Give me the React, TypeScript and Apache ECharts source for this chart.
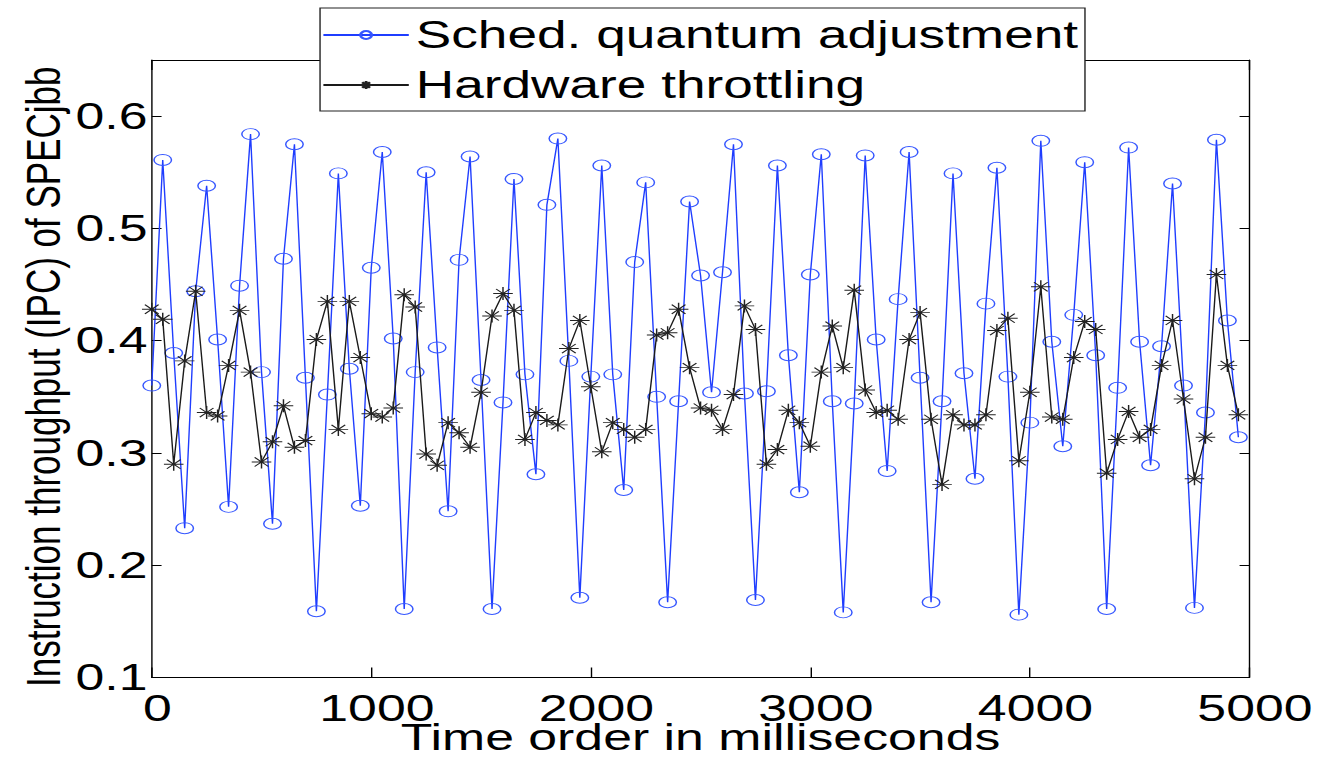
import React, { useEffect, useRef } from "react";
import * as echarts from "echarts";

// Sampled every 50 ms
const schedQuantum = [
  0.360, 0.561, 0.389, 0.233, 0.444, 0.538, 0.401, 0.252, 0.449, 0.584,
  0.372, 0.237, 0.473, 0.575, 0.367, 0.159, 0.352, 0.549, 0.375, 0.253,
  0.465, 0.568, 0.402, 0.161, 0.372, 0.550, 0.394, 0.248, 0.472, 0.564,
  0.365, 0.161, 0.345, 0.544, 0.370, 0.281, 0.521, 0.580, 0.382, 0.171,
  0.368, 0.556, 0.370, 0.267, 0.470, 0.541, 0.350, 0.167, 0.346, 0.524,
  0.458, 0.354, 0.461, 0.575, 0.353, 0.169, 0.355, 0.556, 0.387, 0.265,
  0.459, 0.566, 0.346, 0.158, 0.344, 0.565, 0.401, 0.284, 0.437, 0.568,
  0.367, 0.167, 0.346, 0.549, 0.371, 0.277, 0.433, 0.554, 0.368, 0.156,
  0.327, 0.578, 0.399, 0.306, 0.423, 0.559, 0.387, 0.161, 0.358, 0.572,
  0.399, 0.289, 0.395, 0.540, 0.360, 0.162, 0.336, 0.579, 0.418, 0.314,
];

const hwThrottling = [
  0.428, 0.419, 0.290, 0.382, 0.444, 0.336, 0.333, 0.378, 0.427, 0.372,
  0.292, 0.310, 0.342, 0.305, 0.311, 0.401, 0.435, 0.321, 0.435, 0.385,
  0.335, 0.332, 0.340, 0.441, 0.430, 0.299, 0.289, 0.327, 0.318, 0.305,
  0.354, 0.422, 0.442, 0.427, 0.312, 0.336, 0.329, 0.325, 0.393, 0.418,
  0.359, 0.301, 0.327, 0.321, 0.314, 0.321, 0.405, 0.407, 0.428, 0.376,
  0.340, 0.338, 0.321, 0.352, 0.431, 0.410, 0.290, 0.303, 0.338, 0.327,
  0.306, 0.372, 0.413, 0.376, 0.445, 0.356, 0.336, 0.338, 0.330, 0.401,
  0.425, 0.330, 0.272, 0.334, 0.325, 0.325, 0.334, 0.409, 0.420, 0.293,
  0.354, 0.448, 0.332, 0.330, 0.385, 0.417, 0.410, 0.282, 0.312, 0.337,
  0.314, 0.321, 0.378, 0.418, 0.348, 0.277, 0.314, 0.459, 0.378, 0.334,
];

const SAMPLE_MS = 50;
const timeMs = schedQuantum.map((_, i) => i * SAMPLE_MS);

const seriesNames = ["Sched. quantum adjustment", "Hardware throttling"];
const xAxisTitle = "Time order in milliseconds";
const yAxisTitle = "Instruction throughput (IPC) of SPECjbb";

const S = 1.4; // horizontal stretch of the original figure
const W = 1318 / S;
const H = 758;
const FONT = "Liberation Sans, Arial, Helvetica, sans-serif";

const ELLIPSE = "path://M0,5A5,5,0,1,1,10,5A5,5,0,1,1,0,5Z";
const ASTERISK = "path://M0,5L10,5M5,0L5,10M1.5,1.5L8.5,8.5M1.5,8.5L8.5,1.5";

export default function App() {
  const ref = useRef<HTMLDivElement>(null);

  useEffect(() => {
    const chart = echarts.init(ref.current!, null, { renderer: "svg" });
    const axisLineStyle = { color: "#000", width: 1 };

    chart.setOption({
      animation: false,
      backgroundColor: "#fff",
      grid: {
        left: 108.4,
        right: 48.6,
        top: 60,
        bottom: 80.5,
        containLabel: false,
        outerBoundsMode: "none",
      },
      legend: {
        orient: "vertical",
        left: 228.6,
        top: 8,
        padding: [5, 4.8, 4, 1.4],
        itemWidth: 61,
        itemHeight: 10,
        itemGap: 6,
        backgroundColor: "#fff",
        borderColor: "#222",
        borderWidth: 1,
        borderRadius: 0,
        selectedMode: false,
        textStyle: { fontSize: 38, fontFamily: FONT, color: "#000", lineHeight: 44 },
        data: seriesNames,
      },
      xAxis: [
        {
          type: "value",
          min: 0,
          max: 5000,
          interval: 1000,
          position: "bottom",
          name: xAxisTitle,
          nameLocation: "middle",
          nameGap: 44.5,
          nameMoveOverlap: false,
          nameTextStyle: { fontSize: 37, fontFamily: FONT, color: "#000", lineHeight: 30 },
          axisLine: { show: true, onZero: false, lineStyle: axisLineStyle },
          axisTick: { show: true, inside: true, length: 10, lineStyle: axisLineStyle },
          axisLabel: {
            fontSize: 37,
            fontFamily: FONT,
            color: "#000",
            lineHeight: 28,
            margin: 17,
            padding: [0, 0, 0, 8],
            formatter: (v: number) => String(v),
          },
          splitLine: { show: false },
        },
        {
          type: "value",
          min: 0,
          max: 5000,
          interval: 1000,
          position: "top",
          axisLine: { show: true, onZero: false, lineStyle: axisLineStyle },
          axisTick: { show: true, inside: true, length: 10, lineStyle: axisLineStyle },
          axisLabel: { show: false },
          splitLine: { show: false },
        },
      ],
      yAxis: [
        {
          type: "value",
          min: 0.1,
          max: 0.65,
          interval: 0.1,
          position: "left",
          name: yAxisTitle,
          nameLocation: "middle",
          nameGap: 60.6,
          nameMoveOverlap: false,
          nameTextStyle: {
            fontSize: 35,
            fontFamily: FONT,
            color: "#000",
            padding: [0, 16, 0, 0],
          },
          axisLine: { show: true, onZero: false, lineStyle: axisLineStyle },
          axisTick: { show: true, inside: true, length: 7, lineStyle: axisLineStyle },
          axisLabel: {
            fontSize: 37,
            fontFamily: FONT,
            color: "#000",
            margin: 3,
            formatter: (v: number) => (v > 0.62 ? "" : v.toFixed(1)),
          },
          splitLine: { show: false },
        },
        {
          type: "value",
          min: 0.1,
          max: 0.65,
          interval: 0.1,
          position: "right",
          axisLine: { show: true, onZero: false, lineStyle: axisLineStyle },
          axisTick: { show: true, inside: true, length: 7, lineStyle: axisLineStyle },
          axisLabel: { show: false },
          splitLine: { show: false },
        },
      ],
      series: [
        {
          type: "line",
          name: seriesNames[0],
          data: timeMs.map((t, i) => [t, schedQuantum[i]]),
          symbol: ELLIPSE,
          symbolSize: [12.5, 11],
          showSymbol: true,
          silent: true,
          lineStyle: { color: "#1f3dff", width: 1 },
          itemStyle: { color: "transparent", borderColor: "#3657ff", borderWidth: 1 },
          emphasis: { disabled: true },
          z: 2,
        },
        {
          type: "line",
          name: seriesNames[1],
          data: timeMs.map((t, i) => [t, hwThrottling[i]]),
          symbol: ASTERISK,
          symbolSize: [14, 13],
          showSymbol: true,
          silent: true,
          lineStyle: { color: "#1a1a1a", width: 1 },
          itemStyle: { color: "transparent", borderColor: "#222", borderWidth: 1 },
          emphasis: { disabled: true },
          z: 3,
        },
      ],
    });
    return () => chart.dispose();
  }, []);

  return (
    <div
      ref={ref}
      style={{
        position: "absolute",
        left: 0,
        top: 0,
        width: W,
        height: H,
        transform: `scaleX(${S})`,
        transformOrigin: "0 0",
        background: "#fff",
      }}
    />
  );
}
